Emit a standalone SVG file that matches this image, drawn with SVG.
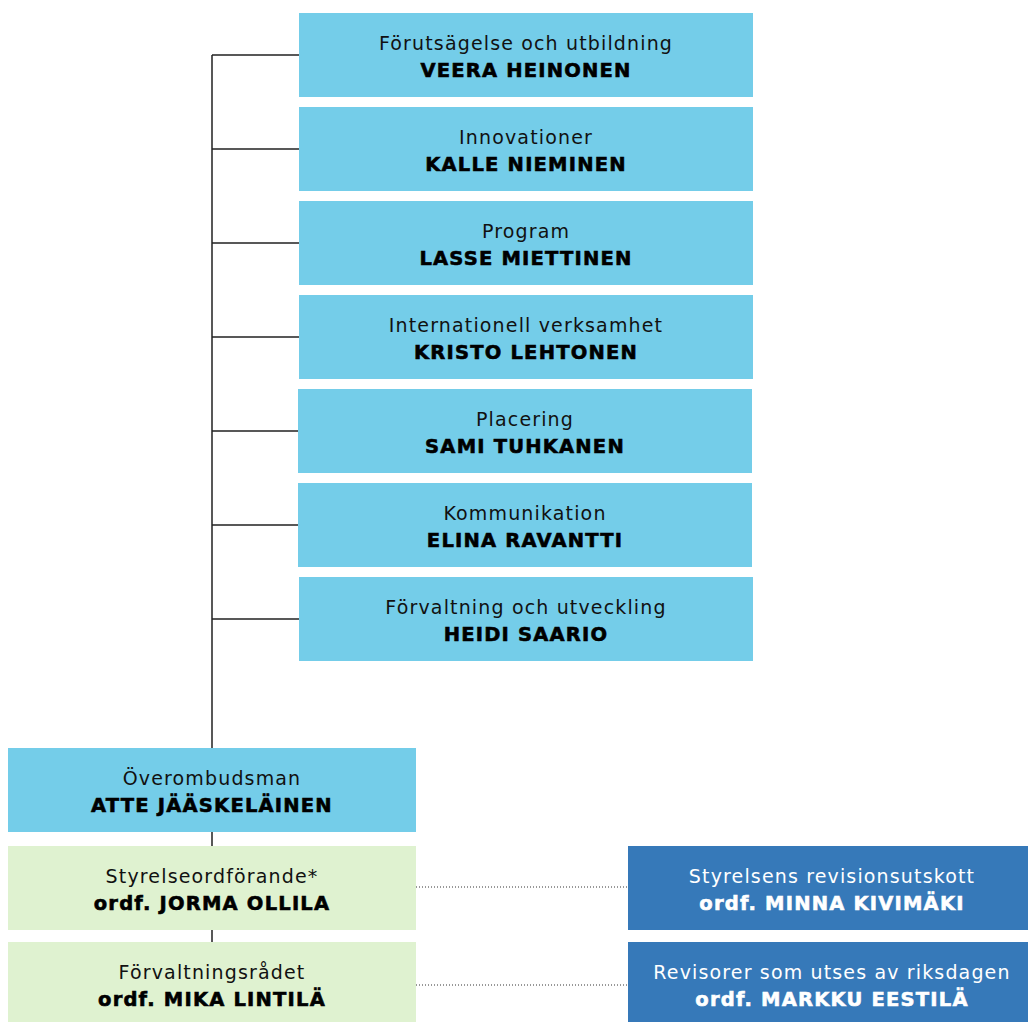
<svg xmlns="http://www.w3.org/2000/svg" width="1028" height="1022" viewBox="0 0 1028 1022">
<style>
.lb{fill:#74cde9}
.gr{fill:#dff2d0}
.db{fill:#3679b9}
.t1{font-family:"DejaVu Sans",sans-serif;font-size:19px;letter-spacing:1.15px;fill:#111;text-anchor:middle}
.t2{font-family:"DejaVu Sans",sans-serif;font-size:19.5px;font-weight:700;letter-spacing:1.2px;fill:#000;stroke:#000;stroke-width:0.6;text-anchor:middle}
.w{fill:#fff;stroke:#fff}
.t1.w{stroke:none}
.ln{stroke:#222;stroke-width:1.5;fill:none}
.dot{stroke:#333;stroke-width:1;stroke-dasharray:1 2;fill:none}
</style>
<rect width="1028" height="1022" fill="#fff"/>
<g id="connectors">
<path class="ln" d="M212 55V1022M212 55H299M212 149H299M212 243H299M212 337H299M212 431H298M212 525H298M212 619H299"/>
<path class="dot" d="M416 887H628M416 985H628"/>
</g>
<g id="n1"><rect class="lb" x="299" y="13" width="454" height="84"/><text class="t1" x="526" y="50">Förutsägelse och utbildning</text><text class="t2" x="526" y="77">VEERA HEINONEN</text></g>
<g id="n2"><rect class="lb" x="299" y="107" width="454" height="84"/><text class="t1" x="526" y="144">Innovationer</text><text class="t2" x="526" y="171">KALLE NIEMINEN</text></g>
<g id="n3"><rect class="lb" x="299" y="201" width="454" height="84"/><text class="t1" x="526" y="238">Program</text><text class="t2" x="526" y="265">LASSE MIETTINEN</text></g>
<g id="n4"><rect class="lb" x="299" y="295" width="454" height="84"/><text class="t1" x="526" y="332">Internationell verksamhet</text><text class="t2" x="526" y="359">KRISTO LEHTONEN</text></g>
<g id="n5"><rect class="lb" x="298" y="389" width="454" height="84"/><text class="t1" x="525" y="426">Placering</text><text class="t2" x="525" y="453">SAMI TUHKANEN</text></g>
<g id="n6"><rect class="lb" x="298" y="483" width="454" height="84"/><text class="t1" x="525" y="520">Kommunikation</text><text class="t2" x="525" y="547">ELINA RAVANTTI</text></g>
<g id="n7"><rect class="lb" x="299" y="577" width="454" height="84"/><text class="t1" x="526" y="614">Förvaltning och utveckling</text><text class="t2" x="526" y="641">HEIDI SAARIO</text></g>
<g id="n8"><rect class="lb" x="8" y="748" width="408" height="84"/><text class="t1" x="212" y="785">Överombudsman</text><text class="t2" x="212" y="812">ATTE JÄÄSKELÄINEN</text></g>
<g id="n9"><rect class="gr" x="8" y="846" width="408" height="84"/><text class="t1" x="212" y="883">Styrelseordförande*</text><text class="t2" x="212" y="910">ordf. JORMA OLLILA</text></g>
<g id="n10"><rect class="gr" x="8" y="942" width="408" height="80"/><text class="t1" x="212" y="979">Förvaltningsrådet</text><text class="t2" x="212" y="1006">ordf. MIKA LINTILÄ</text></g>
<g id="n11"><rect class="db" x="628" y="846" width="400" height="84"/><text class="t1 w" x="832" y="883">Styrelsens revisionsutskott</text><text class="t2 w" x="832" y="910">ordf. MINNA KIVIMÄKI</text></g>
<g id="n12"><rect class="db" x="628" y="942" width="400" height="80"/><text class="t1 w" x="832" y="979">Revisorer som utses av riksdagen</text><text class="t2 w" x="832" y="1006">ordf. MARKKU EESTILÄ</text></g>
</svg>
